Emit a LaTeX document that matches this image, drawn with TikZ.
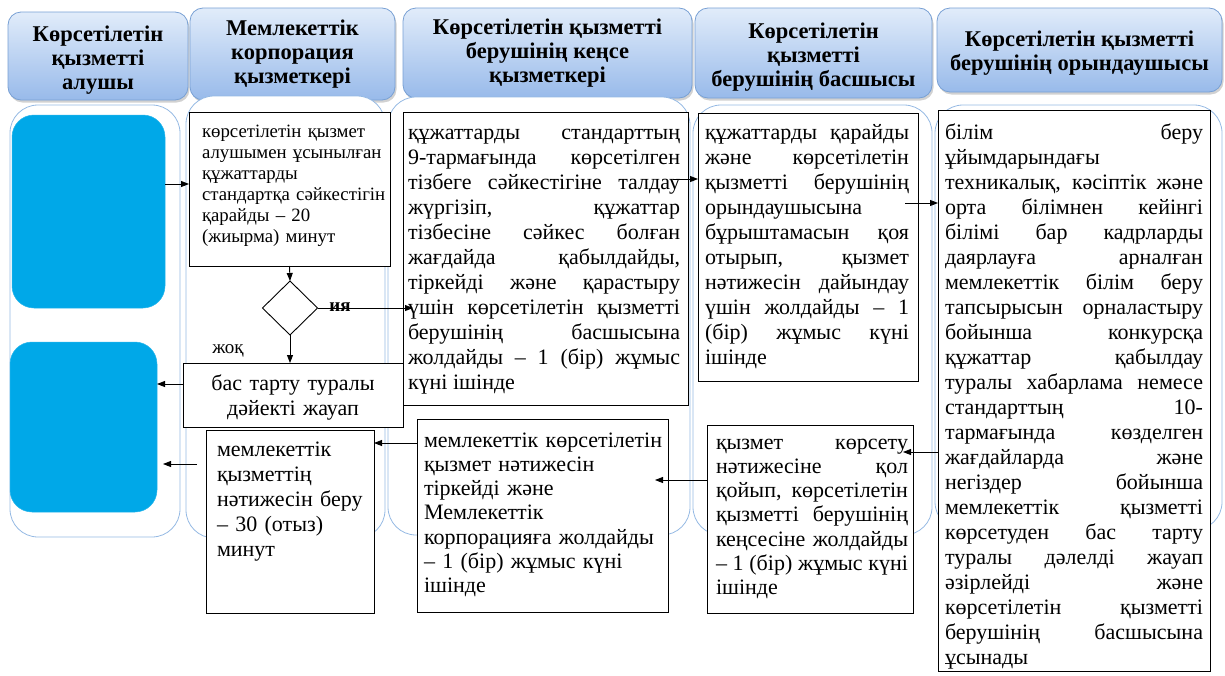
\documentclass[tikz,border=0pt]{standalone}
\usepackage{fontspec}
\setmainfont{Liberation Serif}
\usetikzlibrary{shapes.geometric,shadows,arrows.meta}
\definecolor{hdrtop}{RGB}{225,236,250}
\definecolor{hdrbot}{RGB}{152,186,234}
\definecolor{hdredge}{RGB}{120,160,212}
\definecolor{laneedge}{RGB}{150,186,228}
\definecolor{cyanbox}{RGB}{0,168,232}
\newcommand{\jline}[1]{\makebox[\linewidth][s]{\spaceskip=0pt\xspaceskip=0pt\relax #1}\\}
\begin{document}
\begin{tikzpicture}[x=1pt,y=-1pt,
  hdr/.style={draw=hdredge, line width=0.8pt, rounded corners=13pt, top color=hdrtop, bottom color=hdrbot,
    drop shadow={shadow xshift=1.5pt, shadow yshift=-2.5pt, fill=black!40, opacity=0.45},
    inner sep=0pt, outer sep=0pt, align=center, font=\bfseries\fontsize{22.5}{24}\selectfont},
  htxt/.style={align=center, font=\bfseries\fontsize{22.5}{24}\selectfont, inner sep=0pt},
  lane/.style={draw=laneedge, line width=0.8pt, rounded corners=28pt, fill=white, inner sep=0pt, outer sep=0pt},
  bluebox/.style={fill=cyanbox, draw=cyanbox!85!white, line width=0.5pt, rounded corners=22pt, inner sep=0pt, outer sep=0pt},
  box/.style={draw=black, line width=0.9pt, fill=white, inner sep=0pt, outer sep=0pt},
  txt/.style={inner sep=0pt, outer sep=0pt, anchor=base west, align=justify, font=\fontsize{22}{25}\selectfont},
  rtxt/.style={inner sep=0pt, outer sep=0pt, anchor=base west, align=left, font=\fontsize{22}{24.3}\selectfont},
  arr/.style={line width=0.9pt, -{Triangle[length=8pt,width=6pt]}},
  lbl/.style={inner sep=0pt, font=\fontsize{19}{20}\selectfont}
]
\useasboundingbox (0,0) rectangle (1225,675);
% headers
\node[hdr, minimum width=180, minimum height=88] (h1) at (98,56) {};
\node[htxt] (h1t) at (98,60) {Көрсетілетін\\қызметті\\алушы};
\node[hdr, minimum width=205, minimum height=92] (h2) at (292.5,54) {Мемлекеттік\\корпорация\\қызметкері};
\node[hdr, minimum width=289, minimum height=90] (h3) at (547.5,53) {Көрсетілетін қызметті\\берушінің кеңсе\\қызметкері};
\node[hdr, minimum width=237, minimum height=90] (h4) at (813.5,53) {};
\node[htxt] (h4t) at (813.5,57) {Көрсетілетін\\қызметті\\берушінің басшысы};
\node[hdr, minimum width=285, minimum height=84] (h5) at (1079.5,50) {};
\node[htxt] (h5t) at (1079.5,53) {Көрсетілетін қызметті\\берушінің орындаушысы};
% lanes
\node[lane, minimum width=170, minimum height=432] (l1) at (95,321) {};
\node[lane, minimum width=199, minimum height=442] (l2) at (285.5,317) {};
\node[lane, minimum width=302, minimum height=438] (l3) at (539,316) {};
\node[lane, minimum width=239, minimum height=430] (l4) at (812.5,320) {};
\node[lane, minimum width=287, minimum height=425] (l5) at (1078.5,317.5) {};
% blue boxes
\node[bluebox, minimum width=153, minimum height=193] (ba) at (88.5,211.5) {};
\node[bluebox, minimum width=147, minimum height=170] (bb) at (83.5,427) {};
% boxes
\node[box, minimum width=201, minimum height=154] (b2) at (289.5,189) {};
\node[rtxt, text width=200, font=\fontsize{18.8}{21}\selectfont] (t2) at (202,137) {көрсетілетін қызмет\\алушымен ұсынылған\\құжаттарды\\стандартқа сәйкестігін\\қарайды – 20\\(жиырма) минут};
\node[draw=black, line width=0.9pt, fill=white, shape=diamond, minimum width=55, minimum height=54, inner sep=0pt, outer sep=0pt] (d) at (290,308) {};
\node[box, minimum width=285, minimum height=293] (b3) at (545.5,258.5) {};
\node[txt, text width=272] (t3) at (408,139) {\jline{құжаттарды стандарттың}\jline{9-тармағында көрсетілген}\jline{тізбеге сәйкестігіне талдау}\jline{жүргізіп, құжаттар}\jline{тізбесіне сәйкес болған}\jline{жағдайда қабылдайды,}\jline{тіркейді және қарастыру}\jline{үшін көрсетілетін қызметті}\jline{берушінің басшысына}\jline{жолдайды – 1 (бір) жұмыс}күні ішінде};
\node[box, minimum width=220, minimum height=268] (b4) at (808,247) {};
\node[txt, text width=204] (t4) at (705,139) {\jline{құжаттарды қарайды}\jline{және көрсетілетін}\jline{қызметті берушінің}орындаушысына\\\jline{бұрыштамасын қоя}\jline{отырып, қызмет}\jline{нәтижесін дайындау}\jline{үшін жолдайды – 1}\jline{(бір) жұмыс күні}ішінде};
\node[box, minimum width=272, minimum height=561] (b5) at (1074,390.5) {};
\node[txt, text width=258] (t5) at (945,139) {\jline{білім беру}ұйымдарындағы\\\jline{техникалық, кәсіптік және}\jline{орта білімнен кейінгі}\jline{білімі бар кадрларды}\jline{даярлауға арналған}\jline{мемлекеттік білім беру}\jline{тапсырысын орналастыру}\jline{бойынша конкурсқа}\jline{құжаттар қабылдау}\jline{туралы хабарлама немесе}\jline{стандарттың 10-}\jline{тармағында көзделген}\jline{жағдайларда және}\jline{негіздер бойынша}\jline{мемлекеттік қызметті}\jline{көрсетуден бас тарту}\jline{туралы дәлелді жауап}\jline{әзірлейді және}\jline{көрсетілетін қызметті}\jline{берушінің басшысына}ұсынады};
\node[box, minimum width=220, minimum height=64] (no) at (293,395) {};
\node[rtxt, text width=220, anchor=base, align=center, font=\fontsize{22}{25}\selectfont] (tno) at (293,390) {бас тарту туралы\\дәйекті жауап};
\node[box, minimum width=168, minimum height=183] (res) at (290,521.5) {};
\node[rtxt, text width=155, font=\fontsize{22}{25}\selectfont] (tres) at (217,456) {мемлекеттік\\қызметтің\\нәтижесін беру\\– 30 (отыз)\\минут};
\node[box, minimum width=251, minimum height=193] (b3l) at (542.5,515.5) {};
\node[rtxt, text width=242] (t3l) at (424,447) {мемлекеттік көрсетілетін\\қызмет нәтижесін\\тіркейді және\\Мемлекеттік\\корпорацияға жолдайды\\– 1 (бір) жұмыс күні\\ішінде};
\node[box, minimum width=206, minimum height=188] (b4l) at (810,519) {};
\node[txt, text width=192, font=\fontsize{22}{24.3}\selectfont] (t4l) at (716,449) {\jline{қызмет көрсету}\jline{нәтижесіне қол}\jline{қойып, көрсетілетін}\jline{қызметті берушінің}\jline{кеңсесіне жолдайды}\jline{– 1 (бір) жұмыс күні}ішінде};
% labels
\node[lbl, font=\bfseries\fontsize{19}{20}\selectfont] (ya) at (340,307) {ия};
\node[lbl] (jok) at (228,351) {жоқ};
% arrows
\draw[arr] (ba.east |- 0,184) -- (b2.west |- 0,184);
\draw[arr] (b2.south) -- (d.north);
\draw[arr] (d.south) -- (d.south |- no.north);
\draw[arr] (d.east) -- ([xshift=10pt]d.east -| b3.west);
\draw[arr] (no.west |- 0,384) -- (bb.east |- 0,384);
\draw[arr] ([xshift=-9pt]res.west |- 0,464) -- ([xshift=6pt]bb.east |- 0,464);
\draw[arr] (b3l.west |- 0,443) -- (res.east |- 0,443);
\draw[arr] ([xshift=-15pt]b3.east |- 0,179) -- (b4.west |- 0,179);
\draw[arr] ([xshift=-13pt]b4.east |- 0,203) -- (b5.west |- 0,203);
\draw[arr] (b5.west |- 0,452) -- ([xshift=-10pt]b4l.east |- 0,452);
\draw[arr] (b4l.west |- 0,480) -- ([xshift=-13pt]b3l.east |- 0,480);
\end{tikzpicture}
\end{document}
